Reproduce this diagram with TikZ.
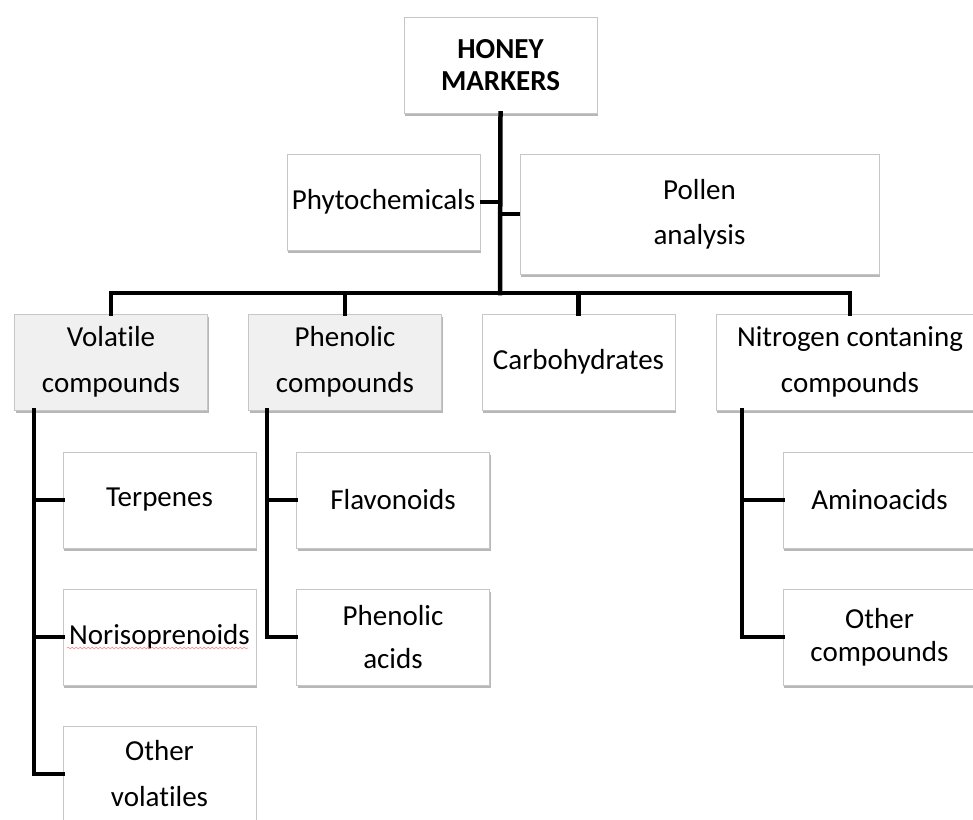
\documentclass[tikz,border=0pt]{standalone}
\usepackage{fontspec}
\setmainfont[Ligatures=NoCommon]{Carlito}
\usetikzlibrary{shadows,decorations.pathmorphing}
\begin{document}
\begin{tikzpicture}[x=1pt,y=-1pt,
  box/.style={draw=gray!45,line width=0.8pt,fill=white,inner sep=0pt,
    minimum width=193pt,minimum height=96pt,align=center,
    font=\fontsize{29}{46}\selectfont,
    drop shadow={shadow xshift=1pt,shadow yshift=-2.5pt,fill=gray!70,opacity=0.8}},
  graybox/.style={box,fill=gray!12},
  tight/.style={font=\fontsize{29}{33}\selectfont},
  conn/.style={line width=4.5pt,line cap=rect},
  stub/.style={line width=3.5pt}]
\useasboundingbox (0,0) rectangle (973,819);
\clip (0,0) rectangle (973,819);
\fill[white] (0,0) rectangle (973,819);
% nodes
\node[box,font=\bfseries\fontsize{29}{32}\selectfont] (honey) at (500.5,65) {HONEY\\MARKERS};
\node[box] (phyto) at (383.5,202) {Phytochemicals};
\node[box,minimum width=359pt,minimum height=120pt,font=\fontsize{29}{45}\selectfont] (pollen) at (699.5,214) {Pollen\\analysis};
\node[graybox] (vol) at (111,362) {Volatile\\compounds};
\node[graybox] (phen) at (345,362) {Phenolic\\compounds};
\node[box] (carb) at (578.5,362) {Carbohydrates};
\node[box,minimum width=268pt] (nitro) at (850,362) {Nitrogen contaning\\compounds};
\node[box] (terp) at (159.5,500) {Terpenes};
\node[box] (noriso) at (159.5,637) {Norisoprenoids};
\node[box] (othvol) at (159.5,774) {Other\\volatiles};
\node[box] (flav) at (393,500) {Flavonoids};
\node[box,font=\fontsize{29}{43}\selectfont] (phacid) at (393,637) {Phenolic\\acids};
\node[box] (amino) at (879.5,500) {Aminoacids};
\node[box,tight] (othcomp) at (879.5,637) {Other\\compounds};
% spell-check underline
\draw[red!45,line width=0.6pt,decorate,decoration={snake,amplitude=0.8pt,segment length=4pt}] (67,648) -- (248,648);
% connectors
\coordinate (bus) at (500,293);
\draw[conn] (honey.south) -- (bus);
\draw[conn] (vol.north) -- (vol.north |- bus) -- (nitro.north |- bus) -- (nitro.north);
\draw[conn] (phen.north) -- (phen.north |- bus);
\draw[conn] (carb.north) -- (carb.north |- bus);
\draw[stub] (phyto.east) -- (phyto.east -| bus);
\draw[stub] (pollen.west) -- (pollen.west -| bus);
\coordinate (vl) at (34,410);
\coordinate (pl) at (267,410);
\coordinate (nl) at (742,410);
\draw[conn] (vl) -- (vl |- othvol.west) -- (othvol.west);
\draw[conn] (vl |- terp.west) -- (terp.west);
\draw[conn] (vl |- noriso.west) -- (noriso.west);
\draw[conn] (pl) -- (pl |- phacid.west) -- (phacid.west);
\draw[conn] (pl |- flav.west) -- (flav.west);
\draw[conn] (nl) -- (nl |- othcomp.west) -- (othcomp.west);
\draw[conn] (nl |- amino.west) -- (amino.west);
\end{tikzpicture}
\end{document}
